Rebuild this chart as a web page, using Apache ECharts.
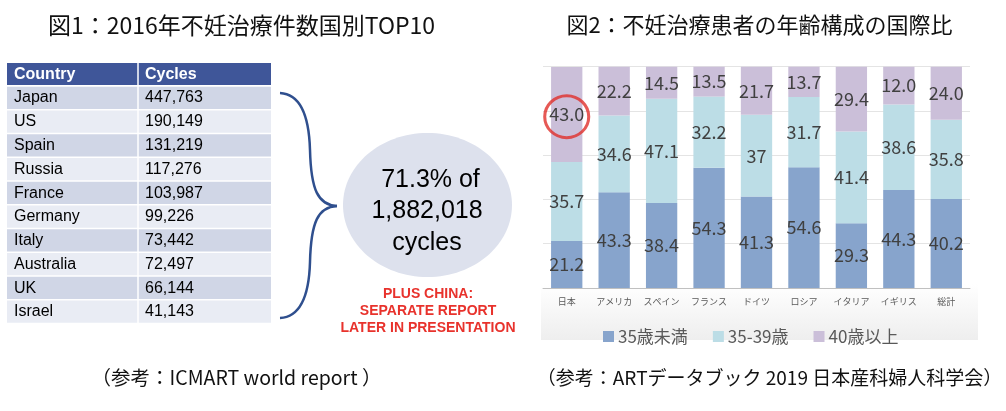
<!DOCTYPE html>
<html>
<head>
<meta charset="utf-8">
<script src="https://cdn.jsdelivr.net/npm/echarts@6/dist/echarts.min.js"></script>
<style>
html,body{margin:0;padding:0;background:#fff;}
#main{width:1006px;height:411px;}
</style>
</head>
<body>
<div id="main"></div>
<script>
// ---- Figure 1 data (table) ----
const title1 = '図1：2016年不妊治療件数国別TOP10';
const tableHeader = ['Country', 'Cycles'];
const countries = ['Japan', 'US', 'Spain', 'Russia', 'France', 'Germany', 'Italy', 'Australia', 'UK', 'Israel'];
const cycles = [447763, 190149, 131219, 117276, 103987, 99226, 73442, 72497, 66144, 41143];
const summaryLines = [' 71.3% of', '1,882,018', 'cycles'];
const noteLines = ['PLUS CHINA:', 'SEPARATE REPORT', 'LATER IN PRESENTATION'];
const source1 = '（参考：ICMART world report ）';

// ---- Figure 2 data (stacked bars) ----
const title2 = '図2：不妊治療患者の年齢構成の国際比';
const categories = ['日本', 'アメリカ', 'スペイン', 'フランス', 'ドイツ', 'ロシア', 'イタリア', 'イギリス', '総計'];
const seriesNames = ['35歳未満', '35-39歳', '40歳以上'];
const under35 = [21.2, 43.3, 38.4, 54.3, 41.3, 54.6, 29.3, 44.3, 40.2];
const age35to39 = [35.7, 34.6, 47.1, 32.2, 37, 31.7, 41.4, 38.6, 35.8];
const over40 = [43.0, 22.2, 14.5, 13.5, 21.7, 13.7, 29.4, 17.1, 24.0];        // bar heights as drawn
const over40Labels = ['43.0', '22.2', '14.5', '13.5', '21.7', '13.7', '29.4', '12.0', '24.0']; // printed labels
const under35Labels = ['21.2', '43.3', '38.4', '54.3', '41.3', '54.6', '29.3', '44.3', '40.2'];
const age35to39Labels = ['35.7', '34.6', '47.1', '32.2', '37', '31.7', '41.4', '38.6', '35.8'];
const highlight = [['日本', 77.4]];
const source2 = '（参考：ARTデータブック 2019 日本産科婦人科学会）';

const JP = '"Noto Sans CJK JP", "Noto Sans", sans-serif';
const AR = '"Liberation Sans", Arial, sans-serif';

function txt(text, x, y, font, fill, align) {
  return {
    type: 'text', silent: true,
    style: {
      text: text, x: x, y: y, font: font, fill: fill,
      textAlign: align || 'center', align: align || 'center',
      textVerticalAlign: 'middle', verticalAlign: 'middle'
    }
  };
}

const graphics = [];
// chart 2 background (light grey fade at bottom)
graphics.push({
  type: 'rect', silent: true, z: -10,
  shape: { x: 541, y: 60, width: 437, height: 280 },
  style: {
    fill: new echarts.graphic.LinearGradient(0, 0, 0, 1, [
      { offset: 0, color: '#ffffff' },
      { offset: 0.8, color: '#ffffff' },
      { offset: 1, color: '#eeeeee' }
    ])
  }
});
// titles
graphics.push(txt(title1, 241.5, 25, '23px ' + JP, '#111'));
graphics.push(txt(title2, 759.5, 25, '22px ' + JP, '#111'));
// footnotes
graphics.push(txt(source1, 236.5, 378, '19.5px ' + JP, '#111'));
graphics.push(txt(source2, 769.5, 378, '19px ' + JP, '#111'));

// table
const tL = 7, tSplit = 138, tR = 271, hTop = 63, hH = 22, rTop = 85.7, rH = 23.76;
graphics.push({ type: 'rect', silent: true, shape: { x: tL, y: hTop, width: tR - tL, height: hH }, style: { fill: '#3f5699' } });
graphics.push(txt(tableHeader[0], tL + 7, hTop + hH / 2 + 0.5, 'bold 16px ' + AR, '#fff', 'left'));
graphics.push(txt(tableHeader[1], tSplit + 7, hTop + hH / 2 + 0.5, 'bold 16px ' + AR, '#fff', 'left'));
countries.forEach(function (c, i) {
  const y = rTop + i * rH;
  graphics.push({ type: 'rect', silent: true, shape: { x: tL, y: y + 1, width: tR - tL, height: rH - 1.5 }, style: { fill: i % 2 === 0 ? '#d0d6e6' : '#e9ecf4' } });
  graphics.push(txt(c, tL + 7, y + rH / 2 + 0.5, '16px ' + AR, '#000', 'left'));
  graphics.push(txt(cycles[i].toLocaleString('en-US'), tSplit + 7, y + rH / 2 + 0.5, '16px ' + AR, '#000', 'left'));
});
graphics.push({ type: 'line', silent: true, shape: { x1: tSplit, y1: hTop, x2: tSplit, y2: rTop + countries.length * rH }, style: { stroke: '#ffffff', lineWidth: 1.5 } });

// brace
const braceStyle = { stroke: '#2f4f8e', lineWidth: 2.5, fill: null };
[
  [280, 93, 300, 94, 309, 115, 310, 150],
  [310, 150, 311, 190, 318, 205, 337, 206],
  [337, 206, 318, 207, 311, 222, 310, 262],
  [310, 262, 309, 297, 300, 317, 280, 318]
].forEach(function (s) {
  graphics.push({ type: 'bezierCurve', silent: true,
    shape: { x1: s[0], y1: s[1], cpx1: s[2], cpy1: s[3], cpx2: s[4], cpy2: s[5], x2: s[6], y2: s[7] },
    style: braceStyle });
});
// ellipse
graphics.push({ type: 'ellipse', silent: true, shape: { cx: 427.5, cy: 205, rx: 84.5, ry: 72 }, style: { fill: '#dde1ed' } });
summaryLines.forEach(function (l, i) {
  graphics.push(txt(l, 427, 180 + i * 31.5, '25px ' + AR, '#000'));
});
noteLines.forEach(function (l, i) {
  graphics.push(txt(l, 428, 294 + i * 17.2, 'bold 14px ' + AR, '#e8322c'));
});

const labelStyle = { show: true, position: 'inside', color: '#404040', fontSize: 18, fontFamily: JP };
function mkLabel(arr) {
  return Object.assign({}, labelStyle, { formatter: function (p) { return arr[p.dataIndex]; } });
}

const chart = echarts.init(document.getElementById('main'), null, { renderer: 'canvas' });
chart.setOption({
  animation: false,
  backgroundColor: '#ffffff',
  grid: { left: 543, right: 36, top: 66.7, bottom: 123, containLabel: false },
  legend: {
    data: seriesNames,
    left: 598, top: 323,
    icon: 'rect', itemWidth: 11, itemHeight: 11, itemGap: 25,
    textStyle: { fontSize: 17, color: '#595959', fontFamily: JP, padding: [0, 0, 0, -1] },
    selectedMode: false
  },
  xAxis: {
    type: 'category', data: categories,
    axisTick: { show: false },
    axisLine: { lineStyle: { color: '#c0c0c0', width: 1 } },
    axisLabel: { fontSize: 9, color: '#595959', fontFamily: JP, margin: 9 }
  },
  yAxis: {
    type: 'value', min: 0, max: 100, interval: 20,
    axisLabel: { show: false }, axisLine: { show: false }, axisTick: { show: false },
    splitLine: { lineStyle: { color: '#e4e4e4', width: 1 } }
  },
  series: [
    { name: seriesNames[0], type: 'bar', stack: 'a', barCategoryGap: '34%', data: under35,
      itemStyle: { color: '#87a4cc' }, label: mkLabel(under35Labels) },
    { name: seriesNames[1], type: 'bar', stack: 'a', data: age35to39,
      itemStyle: { color: '#bcdde6' }, label: mkLabel(age35to39Labels) },
    { name: seriesNames[2], type: 'bar', stack: 'a', data: over40,
      itemStyle: { color: '#cbbfd9' }, label: mkLabel(over40Labels) },
    { name: 'highlight', type: 'scatter', data: highlight, symbol: 'circle', symbolSize: [44, 42], z: 10,
      itemStyle: { color: 'rgba(0,0,0,0)', borderColor: '#e0302a', borderWidth: 3 }, silent: true }
  ],
  graphic: graphics
});
</script>
</body>
</html>
